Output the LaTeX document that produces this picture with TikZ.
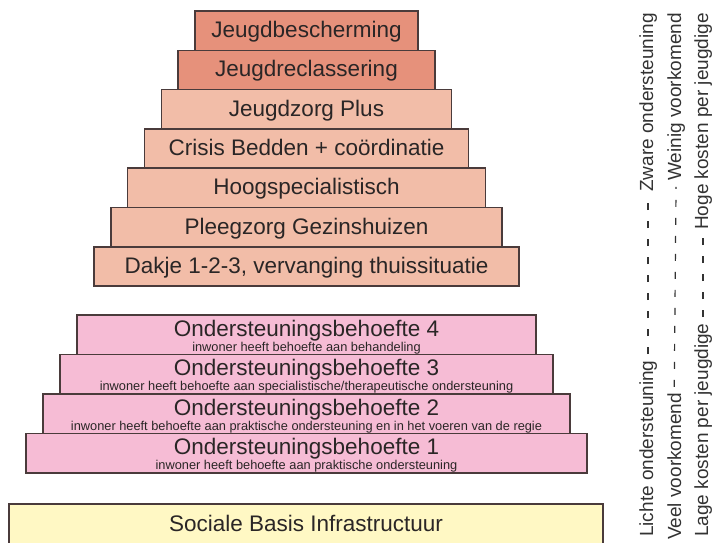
\documentclass[tikz,border=0pt]{standalone}
\usepackage{fontspec}
\setmainfont{Liberation Sans}
\usetikzlibrary{calc}
\definecolor{salmonD}{HTML}{E6917B}
\definecolor{salmonL}{HTML}{F2BDA8}
\definecolor{pinkc}{HTML}{F6BCD5}
\definecolor{yellowc}{HTML}{FFF8C4}
\definecolor{edge}{HTML}{4A3B3B}
\definecolor{ink}{HTML}{2A2626}
\definecolor{sidec}{HTML}{333333}
\begin{document}
\begin{tikzpicture}[x=1pt,y=-1pt,
  box/.style={draw=edge, line width=1.5pt, inner sep=0pt, text=ink},
  topbox/.style={box, minimum height=39.3pt, text height=16pt, text depth=2pt, font=\fontsize{22.5}{24}\selectfont},
  pinkbox/.style={box, fill=pinkc, minimum height=39.5pt},
  big/.style={font=\fontsize{22.5}{24}\selectfont, text=ink, inner sep=0pt, anchor=base},
  small/.style={font=\fontsize{12.8}{14}\selectfont, text=ink, inner sep=0pt, anchor=base},
  side/.style={font=\fontsize{19}{20}\selectfont, text=sidec, inner sep=0pt, rotate=90},
  dashline/.style={draw=sidec, line width=1.2pt, dash pattern=on 7pt off 11pt, shorten <=6pt, shorten >=6pt}
]
\useasboundingbox (0,0) rectangle (716,542);

% upper staircase
\node[topbox, fill=salmonD, minimum width=223pt]   (t1) at (306.5,30.65)  {Jeugdbescherming};
\node[topbox, fill=salmonD, minimum width=256.7pt] (t2) at (306.5,69.95)  {Jeugdreclassering};
\node[topbox, fill=salmonL, minimum width=290.3pt] (t3) at (306.5,109.25) {Jeugdzorg Plus};
\node[topbox, fill=salmonL, minimum width=324pt]   (t4) at (306.5,148.55) {Crisis Bedden + coördinatie};
\node[topbox, fill=salmonL, minimum width=357.7pt] (t5) at (306.5,187.85) {Hoogspecialistisch};
\node[topbox, fill=salmonL, minimum width=391.3pt] (t6) at (306.5,227.15) {Pleegzorg Gezinshuizen};
\node[topbox, fill=salmonL, minimum width=425pt]   (t7) at (306.5,266.45) {Dakje 1-2-3, vervanging thuissituatie};

% pink staircase
\node[pinkbox, minimum width=459pt] (p4) at (306.5,334.75) {};
\node[big]   (p4a) at ($(p4.north)+(0,22)$) {Ondersteuningsbehoefte 4};
\node[small] (p4b) at ($(p4.north)+(0,37)$) {inwoner heeft behoefte aan behandeling};

\node[pinkbox, minimum width=493pt] (p3) at (306.5,374.25) {};
\node[big]   (p3a) at ($(p3.north)+(0,22)$) {Ondersteuningsbehoefte 3};
\node[small] (p3b) at ($(p3.north)+(0,37)$) {inwoner heeft behoefte aan specialistische/therapeutische ondersteuning};

\node[pinkbox, minimum width=527pt] (p2) at (306.5,413.75) {};
\node[big]   (p2a) at ($(p2.north)+(0,22)$) {Ondersteuningsbehoefte 2};
\node[small] (p2b) at ($(p2.north)+(0,37)$) {inwoner heeft behoefte aan praktische ondersteuning en in het voeren van de regie};

\node[pinkbox, minimum width=561pt] (p1) at (306.5,453.25) {};
\node[big]   (p1a) at ($(p1.north)+(0,22)$) {Ondersteuningsbehoefte 1};
\node[small] (p1b) at ($(p1.north)+(0,37)$) {inwoner heeft behoefte aan praktische ondersteuning};

% base
\node[box, fill=yellowc, minimum width=594pt, minimum height=60pt] (sb) at (306,534) {};
\node[big] (sbt) at ($(sb.north)+(0,28)$) {Sociale Basis Infrastructuur};

% side scales
\node[side, anchor=base west] (lo) at (653,537) {Lichte ondersteuning};
\node[side, anchor=base east] (zo) at (653,13)  {Zware ondersteuning};
\draw[dashline] (lo.east) -- (zo.west);

\node[side, anchor=base west] (vv) at (681,540) {Veel voorkomend};
\node[side, anchor=base east] (wv) at (681,13)  {Weinig voorkomend};
\draw[dashline] (vv.east) -- (wv.west);

\node[side, anchor=base west] (lk) at (708,537) {Lage kosten per jeugdige};
\node[side, anchor=base east] (hk) at (708,13)  {Hoge kosten per jeugdige};
\draw[dashline] (lk.east) -- (hk.west);
\end{tikzpicture}
\end{document}
